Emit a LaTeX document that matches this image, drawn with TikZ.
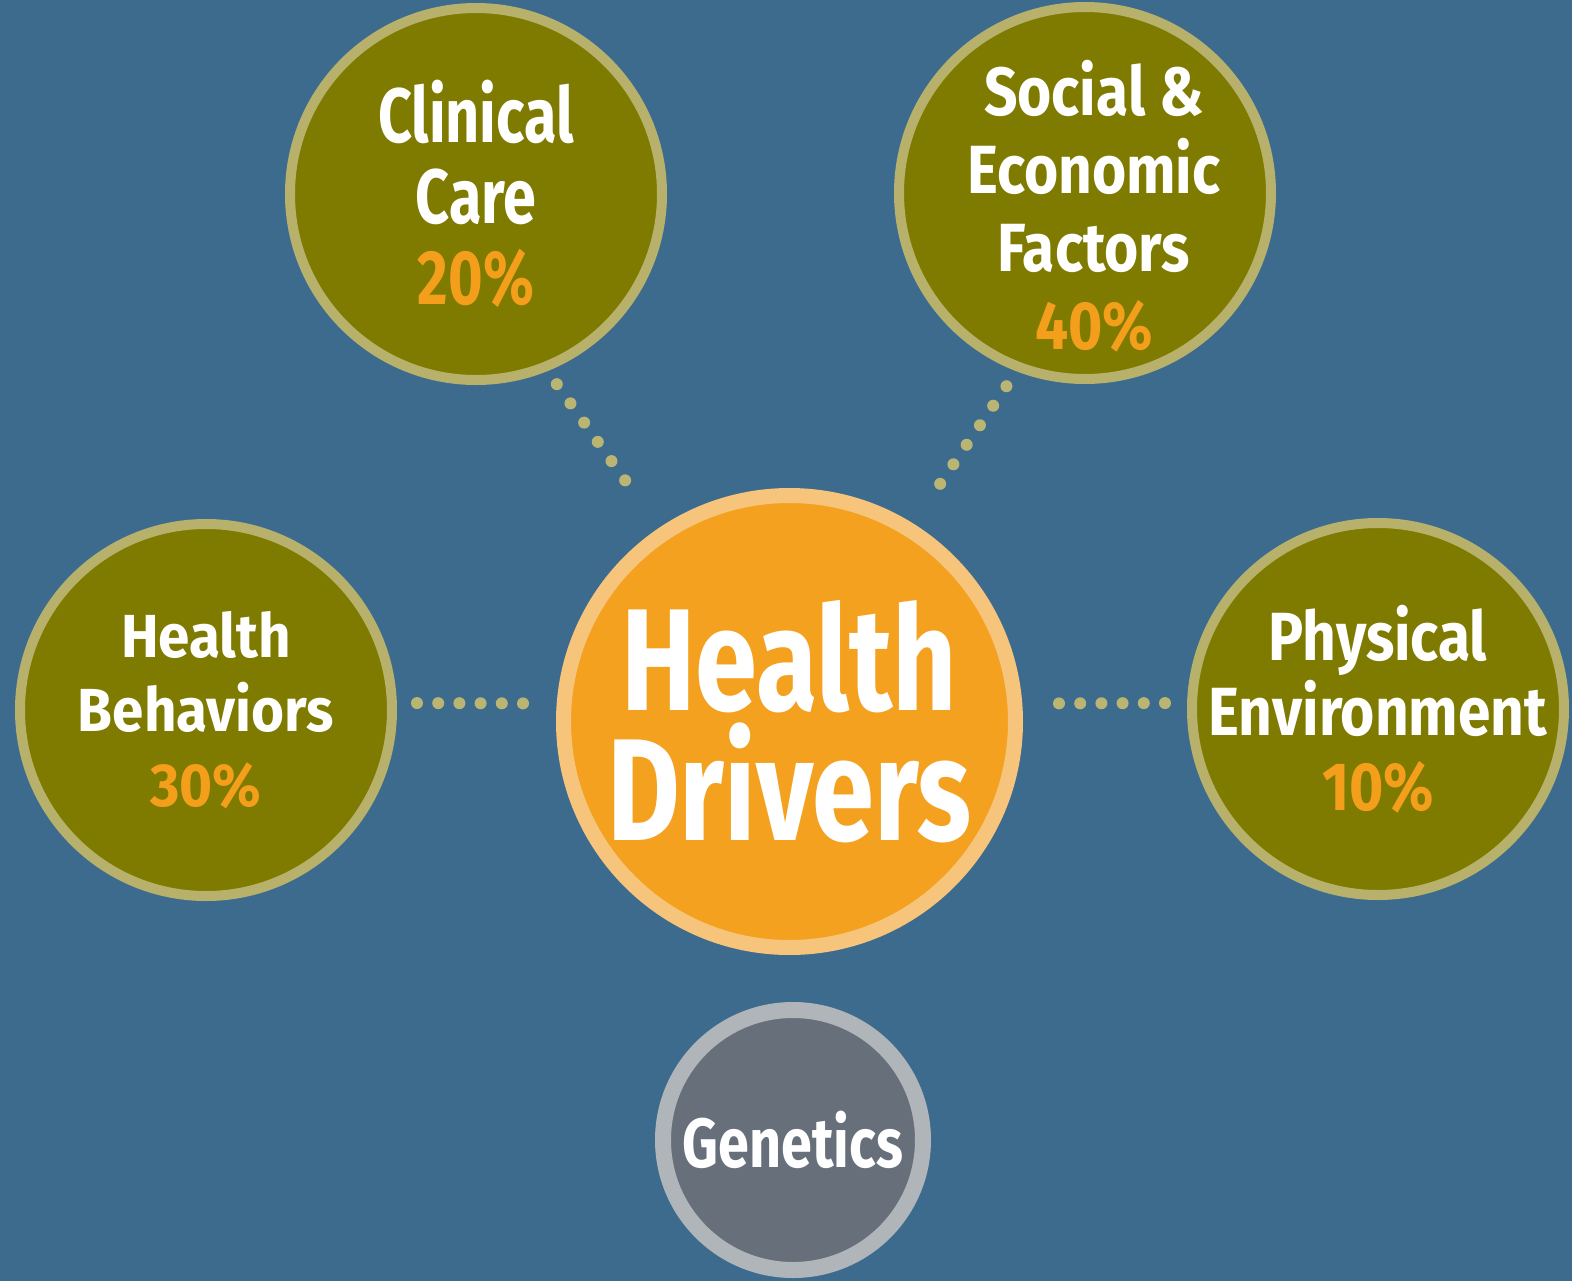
\documentclass[tikz,border=0pt]{standalone}
\usepackage{fontspec}
\newfontfamily\hubfont[FakeStretch=0.77]{Fira Sans}
\newfontfamily\genfont[FakeStretch=0.8]{Fira Sans}
\newfontfamily\sidefont[FakeStretch=0.86]{Fira Sans}
\newfontfamily\behfont[FakeStretch=0.93]{Fira Sans}

\definecolor{bgblue}{HTML}{3D6B8E}
\definecolor{olivefill}{HTML}{7F7B00}
\definecolor{olivering}{HTML}{B7B16C}
\definecolor{dotcol}{HTML}{BAB573}
\definecolor{hubfill}{HTML}{F4A11F}
\definecolor{hubring}{HTML}{F7C47B}
\definecolor{pct}{HTML}{F49F1C}
\definecolor{genfill}{HTML}{67707A}
\definecolor{genring}{HTML}{B0B5BA}

\tikzset{
  factor/.style={circle, inner sep=0pt, minimum size=3.72cm, fill=olivefill, draw=olivering, line width=1mm},
  hubnode/.style={circle, inner sep=0pt, minimum size=4.52cm, fill=hubfill, draw=hubring, line width=1.5mm},
  genenode/.style={circle, inner sep=0pt, minimum size=2.6cm, fill=genfill, draw=genring, line width=1.6mm},
  ftext/.style={text=white, align=center, inner sep=0pt},
  dotline/.style={dotcol, line width=1.2mm, line cap=round, dash pattern=on 0pt off 2.36mm},
  hdots/.style={dotline, dash pattern=on 0pt off 2.12mm}
}

\begin{document}
\begin{tikzpicture}[y=-1cm]
\useasboundingbox (0,0) rectangle (15.72,12.81);
\fill[bgblue] (0,0) rectangle (15.72,12.81);
% outer circles
\node[factor] (clin) at (4.76,1.94) {};
\node[factor] (soc) at (10.85,1.93) {};
\node[factor] (beh) at (2.06,7.10) {};
\node[factor] (phys) at (13.78,7.09) {};
\node[hubnode] (drv) at (7.895,7.215) {};
\node[genenode] (gen) at (7.93,11.40) {};
% labels
\node[ftext, font=\hubfont\bfseries\fontsize{21.9}{23}\selectfont] (clintxt) at (clin) {Clinical\\Care\\\textcolor{pct}{20\%}};
\node[ftext, font=\sidefont\bfseries\fontsize{19.4}{22.2}\selectfont] (soctxt) at ([xshift=0.09cm, yshift=-0.13cm]soc) {Social \&\\Economic\\Factors\\\textcolor{pct}{40\%}};
\node[ftext, font=\behfont\bfseries\fontsize{17.3}{21.3}\selectfont] (behtxt) at (beh) {Health\\Behaviors\\\textcolor{pct}{30\%}};
\node[ftext, font=\sidefont\bfseries\fontsize{19.4}{21.3}\selectfont] (phystxt) at (phys) {Physical\\Environment\\\textcolor{pct}{10\%}};
\node[ftext, font=\hubfont\bfseries\fontsize{41.3}{37}\selectfont] (drvtxt) at (drv) {Health\\Drivers};
\node[ftext, font=\genfont\bfseries\fontsize{19.8}{22}\selectfont] (gentxt) at (gen) {Genetics};
% dotted links
\draw[dotline, shorten <=0.16cm, shorten >=0.56cm] (clin.-68) -- (drv.124);
\draw[dotline, shorten <=0.18cm, shorten >=0.44cm] (soc.-111.3) -- (drv.58.1);
\draw[hdots, shorten <=0.20cm, shorten >=0.29cm] ([yshift=0.07cm]beh.east) -- ([yshift=0.18cm]drv.west);
\draw[hdots, shorten <=0.36cm, shorten >=0.19cm] ([yshift=0.18cm]drv.east) -- ([yshift=0.06cm]phys.west);
\end{tikzpicture}
\end{document}
